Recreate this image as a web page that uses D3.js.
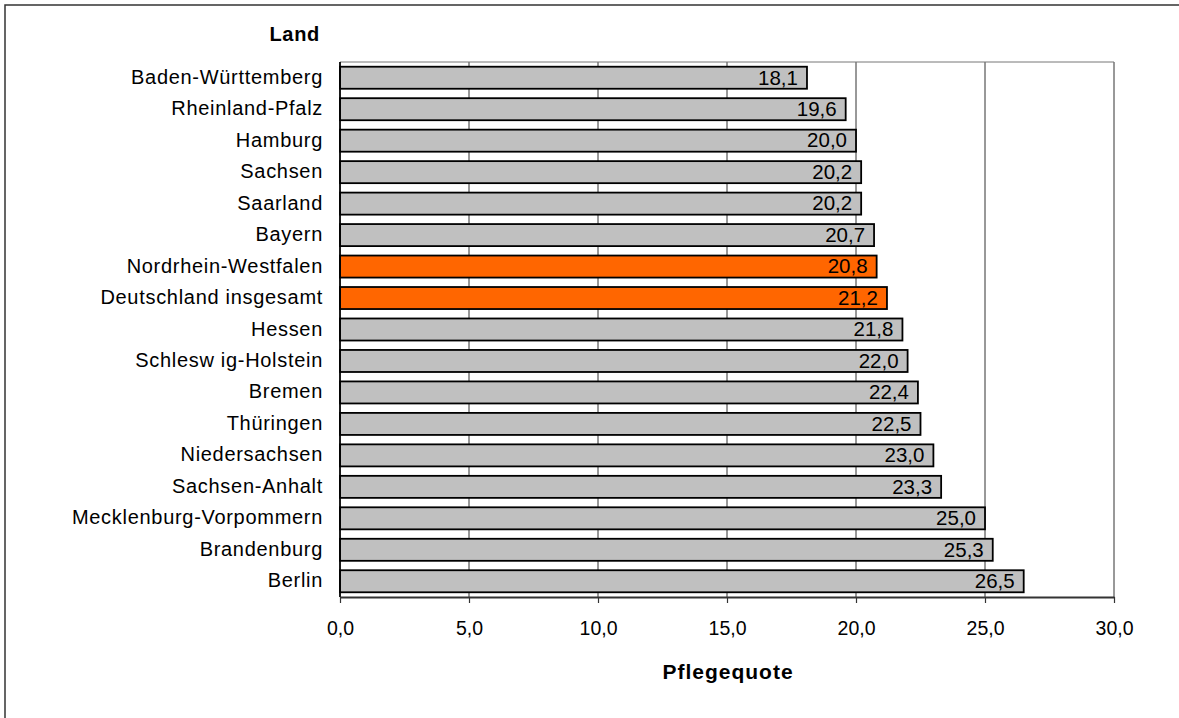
<!DOCTYPE html>
<html>
<head>
<meta charset="UTF-8">
<title>Pflegequote</title>
<script src="https://cdn.jsdelivr.net/npm/d3@7"></script>
<style>
  body { margin: 0; background: #fff; overflow: hidden; }
  text { font-family: "Liberation Sans", Arial, sans-serif; }
</style>
</head>
<body>
<script>
// data
var laender = ["Baden-Württemberg", "Rheinland-Pfalz", "Hamburg", "Sachsen", "Saarland", "Bayern",
  "Nordrhein-Westfalen", "Deutschland insgesamt", "Hessen", "Schlesw ig-Holstein", "Bremen",
  "Thüringen", "Niedersachsen", "Sachsen-Anhalt", "Mecklenburg-Vorpommern", "Brandenburg", "Berlin"];
var quote = [18.1, 19.6, 20.0, 20.2, 20.2, 20.7, 20.8, 21.2, 21.8, 22.0, 22.4, 22.5, 23.0, 23.3, 25.0, 25.3, 26.5];
var hervor = ["Nordrhein-Westfalen", "Deutschland insgesamt"];
var ticks = [0, 5, 10, 15, 20, 25, 30];

var w = 1179, h = 718;
var pLeft = 340, pRight = 1114, pTop = 62, pBottom = 597;

var fmt = function(v) { return d3.format(".1f")(v).replace(".", ","); };

var svg = d3.select("body").append("svg")
  .attr("width", w)
  .attr("height", h);

// outer frame (right and bottom edge lie outside the picture)
svg.append("rect")
  .attr("x", 5).attr("y", 5)
  .attr("width", 1250).attr("height", 800)
  .attr("fill", "none")
  .attr("stroke", "#333")
  .attr("stroke-width", 1.5);

var x = d3.scaleLinear().domain([0, 30]).range([pLeft, pRight]);
var y = d3.scaleBand().domain(laender).range([pTop, pBottom]).paddingInner(0.3).paddingOuter(0.15);

// gridlines
svg.append("g").selectAll("line")
  .data(ticks.slice(1))
  .enter().append("line")
  .attr("x1", function(d) { return x(d); })
  .attr("x2", function(d) { return x(d); })
  .attr("y1", pTop).attr("y2", pBottom)
  .attr("stroke", "#333")
  .attr("stroke-width", 1);

// top border of plot area
svg.append("line")
  .attr("x1", pLeft).attr("x2", pRight)
  .attr("y1", pTop).attr("y2", pTop)
  .attr("stroke", "#777");

// bars
svg.append("g").selectAll("rect")
  .data(laender)
  .enter().append("rect")
  .attr("x", x(0))
  .attr("y", function(d) { return y(d); })
  .attr("width", function(d, i) { return x(quote[i]) - x(0); })
  .attr("height", y.bandwidth())
  .attr("fill", function(d) { return hervor.indexOf(d) >= 0 ? "#ff6600" : "#c0c0c0"; })
  .attr("stroke", "#000")
  .attr("stroke-width", 1.8);

// value labels
svg.append("g").selectAll("text")
  .data(laender)
  .enter().append("text")
  .attr("x", function(d, i) { return x(quote[i]) - 9; })
  .attr("y", function(d) { return y(d) + y.bandwidth() / 2; })
  .attr("dy", "0.33em")
  .attr("text-anchor", "end")
  .attr("font-size", 20.5)
  .attr("fill", "#000")
  .text(function(d, i) { return fmt(quote[i]); });

// y axis
var yAxis = svg.append("g")
  .attr("transform", "translate(" + pLeft + ",0)")
  .call(d3.axisLeft(y).tickSize(0).tickPadding(17));
yAxis.select(".domain").attr("stroke", "#000").attr("stroke-width", 1.8)
  .attr("d", "M0," + pTop + "V" + pBottom);
yAxis.selectAll("text").attr("font-size", 20).attr("fill", "#000")
  .attr("dy", "0.3em")
  .attr("letter-spacing", "0.7px")
  .style("font-family", "'Liberation Sans', Arial, sans-serif");

// x axis
var xAxis = svg.append("g")
  .attr("transform", "translate(0," + pBottom + ")")
  .call(d3.axisBottom(x).tickValues(ticks).tickFormat(fmt).tickSize(6).tickSizeOuter(0).tickPadding(18));
xAxis.select(".domain").attr("stroke", "#333").attr("stroke-width", 1.8);
xAxis.selectAll(".tick line").attr("stroke", "#333").attr("stroke-width", 1.2);
xAxis.selectAll("text").attr("font-size", 19.5).attr("fill", "#000")
  .style("font-family", "'Liberation Sans', Arial, sans-serif");

// titles
svg.append("text")
  .attr("x", 320).attr("y", 41)
  .attr("text-anchor", "end")
  .attr("font-size", 20)
  .attr("font-weight", "bold")
  .attr("letter-spacing", "0.7px")
  .text("Land");

svg.append("text")
  .attr("x", 728).attr("y", 679)
  .attr("text-anchor", "middle")
  .attr("font-size", 21)
  .attr("font-weight", "bold")
  .attr("letter-spacing", "1px")
  .text("Pflegequote");
</script>
</body>
</html>
